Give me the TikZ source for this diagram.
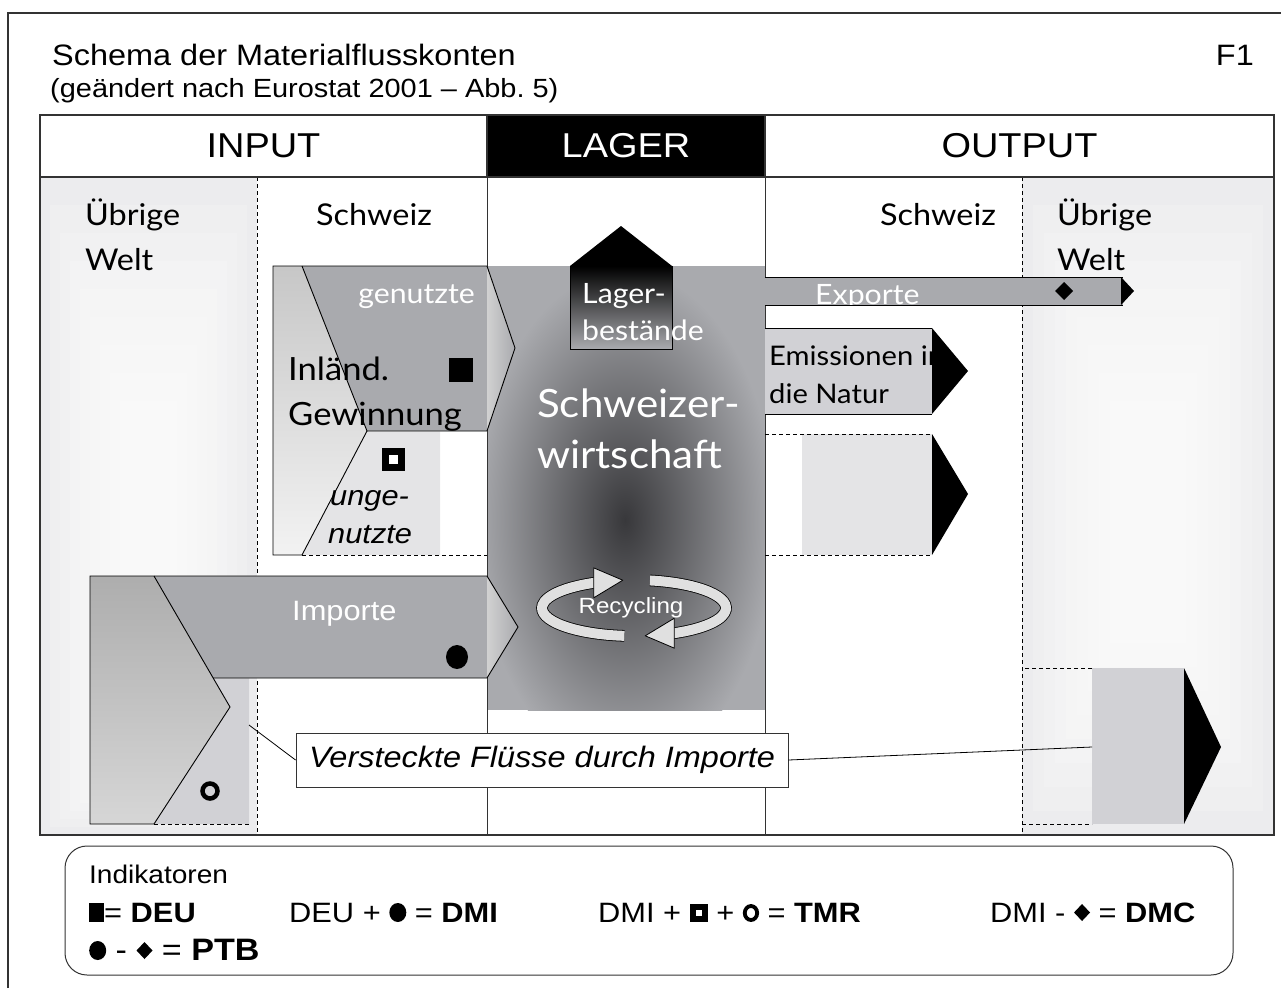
\documentclass[tikz,border=0pt]{standalone}
\usepackage{fontspec}
\setmainfont[FakeStretch=1.1]{Liberation Sans}
\newfontfamily\latofont[FakeStretch=1.08]{Lato}
\usetikzlibrary{calc,positioning}

\definecolor{flowgray}{HTML}{A9AAAE}
\definecolor{flowlight}{HTML}{D1D1D5}
\definecolor{flowpale}{HTML}{E4E4E6}
\definecolor{colbg}{HTML}{ECECEE}
\definecolor{coredark}{HTML}{38383B}
\definecolor{framegray}{HTML}{333333}

\newcommand{\fsz}[1]{\fontsize{#1}{#1}\selectfont}
% Indikator-Symbole
\newcommand{\mkfull}{\tikz[baseline=0pt]\fill (0pt,0pt) rectangle (15pt,19pt);}
\newcommand{\mkhollow}{\tikz[baseline=0pt]{\fill (0pt,0pt) rectangle (18pt,18pt); \fill[white] (6pt,6pt) rectangle (12pt,12pt);}}
\newcommand{\mkdot}{\tikz[baseline=0pt]\fill (8.5pt,9.5pt) ellipse (8.5pt and 9.5pt);}
\newcommand{\mkring}{\tikz[baseline=0pt]\draw[line width=3.8pt] (8pt,9pt) ellipse (6.2pt and 7pt);}
\newcommand{\mkdiam}{\tikz[baseline=0pt]\fill (8pt,1pt) -- (16pt,9.5pt) -- (8pt,18pt) -- (0pt,9.5pt) -- cycle;}

\begin{document}
\begin{tikzpicture}[x=1pt,y=-1pt,
  lato/.style={font=\latofont\fsz{30}, inner sep=0pt, anchor=base west},
  txt/.style={inner sep=0pt, anchor=base west},
  flowline/.style={line width=0.9pt},
  sepdash/.style={line width=0.9pt, dash pattern=on 4pt off 3pt},
  tabline/.style={line width=1.4pt, draw=framegray},
  headbox/.style={draw=framegray, line width=1.4pt, minimum height=62, inner sep=0pt, font=\fsz{34.5}},
  ringarrow/.style={line width=0.8pt, double=black!12, double distance=10pt},
  ringhead/.style={fill=black!12, draw, line width=0.8pt, line join=round}]
\useasboundingbox (0,0) rectangle (1281,988);

% Hintergrund Uebrige Welt
\fill[colbg] (40,177) rectangle (257,835);
\fill[colbg] (1022,177) rectangle (1274,835);
\foreach \i in {1,...,8} {
  \fill[white, opacity=0.17] (40+10*\i,177+28*\i) rectangle (257-10*\i,835-8*\i);
  \fill[white, opacity=0.17] (1022+11*\i,177+28*\i) rectangle (1274-11*\i,835-24*\i);
}

% Schweizer Wirtschaft
\fill[flowgray] (487,266) rectangle (765,710);
\begin{scope}
  \clip (487,266) rectangle (765,710);
  \shade[inner color=coredark, outer color=flowgray] (625,520) ellipse (150 and 250);
\end{scope}

% Spaltentrenner
\draw[sepdash] (257,177) -- (257,835) (1022,177) -- (1022,835);
\draw[tabline, line width=0.9pt] (487,177) -- (487,835) (765,177) -- (765,835);

% Lagerbestaende
\fill (570,266) -- (621,226) -- (672,266) -- cycle;
\shade[top color=black, bottom color=flowgray] (570,266) rectangle (672,349);
\draw[flowline] (570,266) rectangle (672,349);

% Inlaendische Gewinnung
\shade[top color=black!22, bottom color=black!5] (273,266) -- (302,266) -- (367,431) -- (302,555) -- (273,555) -- cycle;
\fill[flowgray] (302,266) -- (487,266) -- (487,431) -- (367,431) -- cycle;
\fill[flowpale] (367,431) -- (440,431) -- (440,555) -- (302,555) -- cycle;
\shade[left color=black!18, right color=flowgray] (487,266) -- (515,348) -- (487,431) -- cycle;
\draw[flowline] (302,555) -- (273,555) -- (273,266) -- (487,266) -- (515,348) -- (487,431) -- (367,431);
\draw[flowline] (302,266) -- (367,431) -- (302,555);
\draw[sepdash] (302,555) -- (487,555);

% Importe
\shade[top color=black!32, bottom color=black!16] (90,576) -- (154,576) -- (230,707) -- (154,824) -- (90,824) -- cycle;
\fill[flowgray] (154,576) -- (487,576) -- (487,678) -- (213,678) -- cycle;
\fill[flowlight] (213,678) -- (249,678) -- (249,824) -- (154,824) -- (230,707) -- cycle;
\shade[left color=black!18, right color=flowgray] (487,576) -- (518,627) -- (487,678) -- cycle;
\draw[flowline] (154,824) -- (90,824) -- (90,576) -- (487,576) -- (518,627) -- (487,678) -- (213,678);
\draw[flowline] (154,576) -- (230,707) -- (154,824);
\draw[sepdash] (154,824) -- (249,824);

% Exporte
\begin{scope}
  \clip (765,277) rectangle (1123,305);
  \fill[flowgray] (765,277) rectangle (1123,305);
  \node[lato, white, font=\latofont\fsz{28}] (exp) at (815,304) {Exporte};
\end{scope}
\draw[flowline] (765,277) -- (1123,277) (765,305) -- (1123,305);
\fill (1121,277) -- (1134,291) -- (1121,305) -- cycle;

% Emissionen
\fill[flowlight] (765,328) rectangle (932,414);
\draw[flowline] (765,328) -- (932,328) (765,414) -- (932,414);
\fill (932,328) -- (968,371) -- (932,414) -- cycle;

% versteckte Fluesse Inland
\fill[flowpale] (802,434) rectangle (932,555);
\draw[sepdash] (765,434) -- (932,434) (765,555) -- (932,555);
\fill (932,434) -- (968,494) -- (932,555) -- cycle;

% versteckte Fluesse Ausland
\fill[flowlight] (1092,668) rectangle (1184,824);
\draw[sepdash] (1092,668) -- (1022,668) (1022,824) -- (1092,824);
\fill (1184,668) -- (1221,747) -- (1184,824) -- cycle;

% Symbole
\fill (449,358) rectangle (473,382);
\fill (382,448) rectangle (405,471);
\fill[white] (389,455) rectangle (398,464);
\fill (457,657) ellipse (11 and 12);
\draw[line width=4.5pt] (210,791) circle (7.5);
\fill (1064,282) -- (1073,291) -- (1064,300) -- (1055,291) -- cycle;

% Recycling
\coordinate (rc) at (634,608);
\draw[ringarrow] ($(rc)+(96:92 and 28)$) arc[start angle=96, end angle=248, x radius=92, y radius=28];
\draw[ringhead] ($(rc)+(244:92 and 28)+(0,-15)$) -- ($(rc)+(263:92 and 28)$) -- ($(rc)+(244:92 and 28)+(0,15)$) -- cycle;
\draw[ringarrow] ($(rc)+(280:92 and 28)$) arc[start angle=280, end angle=427, x radius=92, y radius=28];
\draw[ringhead] ($(rc)+(424:92 and 28)+(0,-15)$) -- ($(rc)+(443:92 and 28)$) -- ($(rc)+(424:92 and 28)+(0,15)$) -- cycle;
\node[white, font=\fsz{22}, inner sep=0pt] (rec) at (631,608) {Recycling};

% Beschriftungen
\node[lato] (uwl1) at (85,225) {Übrige};
\node[lato] (uwl2) at ($(uwl1.base west)+(0,45)$) {Welt};
\node[lato] (chl) at (316,225) {Schweiz};
\node[lato] (chr) at (880,225) {Schweiz};
\node[lato] (uwr1) at (1057,225) {Übrige};
\node[lato] (uwr2) at ($(uwr1.base west)+(0,45)$) {Welt};
\node[lato, anchor=base east, white, font=\latofont\fsz{28}] (gen) at (475,303) {genutzte};
\node[lato, font=\latofont\fsz{32}] (inl1) at (288,380) {Inländ.};
\node[lato, font=\latofont\fsz{32}] (inl2) at ($(inl1.base west)+(0,45)$) {Gewinnung};
\node[txt, font=\itshape\fsz{28}] (ung1) at (330,505) {unge-};
\node[txt, font=\itshape\fsz{28}] (ung2) at (328,543) {nutzte};
\node[lato, white, font=\latofont\fsz{28}] (lag1) at (582,303) {Lager-};
\node[lato, white, font=\latofont\fsz{28}] (lag2) at ($(lag1.base west)+(0,37)$) {bestände};
\node[lato, white, font=\latofont\fsz{39}] (swz1) at (537,417) {Schweizer-};
\node[lato, white, font=\latofont\fsz{39}] (swz2) at ($(swz1.base west)+(0,51)$) {wirtschaft};
\node[txt, white, font=\fsz{28}] (imp) at (292,620) {Importe};
\node[lato, font=\latofont\fsz{27}] (ems1) at (769,365) {Emissionen in};
\node[lato, font=\latofont\fsz{27}] (ems2) at ($(ems1.base west)+(0,38)$) {die Natur};

% Kopf
\node[txt, font=\fsz{29.5}] (ttl) at (52,65) {Schema der Materialflusskonten};
\node[txt, anchor=base east, font=\fsz{29.5}] (fig) at (1254,65) {F1};
\node[txt, font=\fsz{26.3}] (sub) at (50,97) {(geändert nach Eurostat 2001 – Abb.~5)};
\draw[line width=1.2pt, framegray] (8,988) -- (8,13) -- (1281,13);
\node[headbox, fill=white, minimum width=447] (hin) at (263.5,146) {INPUT};
\node[headbox, fill=black, text=white, minimum width=278] (hlg) at (626,146) {LAGER};
\node[headbox, fill=white, minimum width=509] (hout) at (1019.5,146) {OUTPUT};
\draw[tabline] (40,115) rectangle (1274,835);

% versteckte Fluesse: Hinweis
\node[draw=framegray, fill=white, line width=0.9pt, minimum width=492, minimum height=54, font=\itshape\fsz{29.5}] (vfl) at (542,760) {Versteckte Flüsse durch Importe};
\coordinate (himp) at (249,725);
\coordinate (hexp) at (1092,747);
\draw[line width=0.8pt] (vfl.west) -- (himp) (vfl.east) -- (hexp);

% Indikatoren
\draw[line width=1pt, rounded corners=22pt, framegray] (65,846) rectangle (1233,975);
\node[txt, font=\fsz{25.5}] (ind) at (89,883) {Indikatoren};
\node[txt, font=\fsz{28}] (deu) at (89,922) {\mkfull= \textbf{DEU}};
\node[txt, font=\fsz{28}] (dmi) at (289,922) {DEU + \mkdot{} = \textbf{DMI}};
\node[txt, font=\fsz{28}] (tmr) at (598,922) {DMI + \mkhollow{} + \mkring{} = \textbf{TMR}};
\node[txt, font=\fsz{28}] (dmc) at (990,922) {DMI - \mkdiam{} = \textbf{DMC}};
\node[txt, font=\fsz{31}] (ptb) at (89,960) {\mkdot{} - \mkdiam{} = \textbf{PTB}};
\end{tikzpicture}
\end{document}
